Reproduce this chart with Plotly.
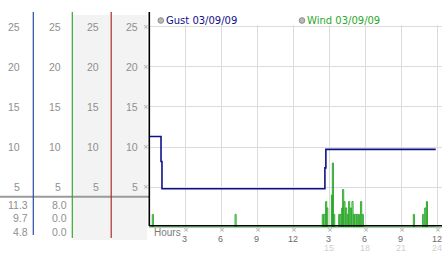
import plotly.graph_objects as go

# ---------------- data ----------------
gust_hours = [0.0, 0.92, 1.00, 14.60, 14.68, 23.85]
gust_mph = [11.3, 8.2, 4.8, 7.4, 9.7, 9.7]

wind_spike_hours = [0.19, 7.10, 14.38, 14.52, 14.66, 14.75, 15.14, 15.22, 15.33,
                    15.75, 15.86, 16.00, 16.08, 16.19, 16.33, 16.47, 16.58, 16.72,
                    16.86, 16.97, 17.11, 17.25, 17.39, 17.58, 17.72, 21.98, 22.76,
                    22.93, 23.07]
wind_spike_mph = [1.6, 1.6, 1.6, 1.6, 3.2, 2.4, 4.0, 8.0, 1.6,
                  1.6, 1.6, 2.4, 4.7, 3.2, 2.4, 1.6, 3.2, 2.4,
                  3.2, 1.6, 1.6, 1.6, 1.6, 3.2, 1.6, 1.6, 1.6,
                  2.4, 3.2]
wind_end_hour = 23.85

y_ticks = [5, 10, 15, 20, 25]
x_tick_hours = [3, 6, 9, 12, 15, 18, 21, 24]
x_tick_labels = ["3", "6", "9", "12", "3", "6", "9", "12"]
x_tick_labels2 = ["", "", "", "", "15", "18", "21", "24"]

gust_summary = ["11.3", "9.7", "4.8"]
wind_summary = ["8.0", "0.0", "0.0"]

legend_labels = ["Gust 03/09/09", "Wind 03/09/09"]

# ---------------- helpers ----------------
W, H = 442, 253
def px(x):
    return x / W
def py(y):
    return 1 - y / H

GUST_C = "#10108a"
WIND_C = "#2aa82a"
LABEL_C = "#8f8f8f"

# build wind step series from readings
wind_x = [0.0]
wind_y = [0.0]
for t, v in zip(wind_spike_hours, wind_spike_mph):
    wind_x += [t, t + 0.09]
    wind_y += [v, 0.0]
wind_x.append(wind_end_hour)
wind_y.append(0.0)

fig = go.Figure()
fig.add_trace(go.Scatter(x=gust_hours, y=gust_mph, mode="lines",
                         line=dict(color=GUST_C, width=1.6, shape="hv"),
                         hoverinfo="skip"))
fig.add_trace(go.Scatter(x=wind_x, y=wind_y, mode="lines",
                         line=dict(color=WIND_C, width=1, shape="hv"),
                         hoverinfo="skip"))

# plot area geometry (pixels)
x0_pix, x_per_h = 150.0, 11.98
y0_pix, y_per_u = 227.2, 8.02
top_pix = 25.0
xmax = (W - x0_pix) / x_per_h
ymax = (y0_pix - top_pix) / y_per_u

shapes = []
annotations = []

def ann(**kw):
    kw.setdefault("showarrow", False)
    kw.setdefault("borderpad", 0)
    kw.setdefault("borderwidth", 0)
    annotations.append(kw)

# gray stripes in left panel
for a, b in [(73, 110.5), (112, 147)]:
    shapes.append(dict(type="rect", xref="paper", yref="paper",
                       x0=px(a), x1=px(b), y0=py(240), y1=py(15),
                       fillcolor="#f3f3f3", line=dict(width=0), layer="below"))
# horizontal separator
shapes.append(dict(type="line", xref="paper", yref="paper",
                   x0=px(0), x1=px(149), y0=py(196.7), y1=py(196.7),
                   line=dict(color="#9a9a9a", width=2)))
# colored column lines
for xl, c, y2 in [(33.3, "#2a4aa8", 235), (72.3, "#33a833", 238), (111.2, "#a82a2a", 238)]:
    shapes.append(dict(type="line", xref="paper", yref="paper",
                       x0=px(xl), x1=px(xl), y0=py(12), y1=py(y2),
                       line=dict(color=c, width=1.2)))
# black left axis
shapes.append(dict(type="line", xref="paper", yref="paper",
                   x0=px(149.3), x1=px(149.3), y0=py(12), y1=py(226),
                   line=dict(color="black", width=1.6), layer="above"))
# black bottom axis
shapes.append(dict(type="line", xref="paper", yref="paper",
                   x0=px(149), x1=px(442), y0=py(225.8), y1=py(225.8),
                   line=dict(color="black", width=1.6), layer="above"))
shapes.append(dict(type="line", xref="paper", yref="paper",
                   x0=px(149), x1=px(442), y0=py(227.6), y1=py(227.6),
                   line=dict(color="#9ad89a", width=1), layer="above"))

# left labels (4 columns)
col_right = [19.8, 60.6, 99.3, 138.2]
for v in y_ticks:
    for xr in col_right:
        ann(text=str(v), xref="paper", yref="y", x=px(xr), y=v,
            xanchor="right", yanchor="middle",
            font=dict(family="Liberation Sans", size=10.5, color=LABEL_C))
    ann(text="×", xref="paper", yref="y", x=px(146.3), y=v,
        xanchor="center", yanchor="middle",
        font=dict(family="DejaVu Sans", size=7, color="#a0a0a0"))

# summary values
for g, w, yy in zip(gust_summary, wind_summary, [204.7, 218.2, 231.5]):
    ann(text=g, xref="paper", yref="paper", x=px(27.8), y=py(yy),
        xanchor="right", yanchor="middle",
        font=dict(family="Liberation Sans", size=10.5, color=LABEL_C))
    ann(text=w, xref="paper", yref="paper", x=px(67.2), y=py(yy),
        xanchor="right", yanchor="middle",
        font=dict(family="Liberation Sans", size=10.5, color=LABEL_C))

# x labels
ann(text="Hours", xref="paper", yref="paper", x=px(153.5), y=py(232),
    xanchor="left", yanchor="middle",
    font=dict(family="Liberation Sans", size=10, color="#7a7a7a"))
for h, l1, l2 in zip(x_tick_hours, x_tick_labels, x_tick_labels2):
    ann(text="×", xref="x", yref="paper", x=h, y=py(230.2),
        xanchor="center", yanchor="middle",
        font=dict(family="DejaVu Sans", size=7, color="#a0a0a0"))
    ann(text=l1, xref="x", yref="paper", x=h - 0.08, y=py(238.8),
        xanchor="center", yanchor="middle",
        font=dict(family="Liberation Sans", size=9, color="#6a6a6a"))
    if l2:
        ann(text=l2, xref="x", yref="paper", x=h - 0.08, y=py(247.6),
            xanchor="center", yanchor="middle",
            font=dict(family="Liberation Sans", size=9, color="#d0d0d0"))

# legend
for (mx, tx), lab, c in zip([(160.8, 165.5), (302.0, 306.5)], legend_labels, [GUST_C, WIND_C]):
    shapes.append(dict(type="circle", xref="paper", yref="paper",
                       x0=px(mx - 2.8), x1=px(mx + 2.8), y0=py(23.3), y1=py(17.7),
                       fillcolor="#b8b8b8", line=dict(color="#8a8a8a", width=1)))
    ann(text=lab, xref="paper", yref="paper", x=px(tx), y=py(20.5),
        xanchor="left", yanchor="middle",
        font=dict(family="DejaVu Sans", size=10, color=c))

fig.update_layout(
    width=W, height=H,
    margin=dict(l=0, r=0, t=0, b=0),
    paper_bgcolor="white", plot_bgcolor="white",
    showlegend=False,
    shapes=shapes, annotations=annotations,
    xaxis=dict(domain=[px(x0_pix), 1.0], range=[0, xmax], tick0=0, dtick=3,
               showgrid=True, gridcolor="#dcdcdc", gridwidth=1,
               showticklabels=False, zeroline=False, showline=False, ticks=""),
    yaxis=dict(domain=[py(y0_pix), py(top_pix)], range=[0, ymax], tick0=0, dtick=5,
               showgrid=True, gridcolor="#dcdcdc", gridwidth=1,
               showticklabels=False, zeroline=False, showline=False, ticks=""),
)

fig.write_html("out.html")
